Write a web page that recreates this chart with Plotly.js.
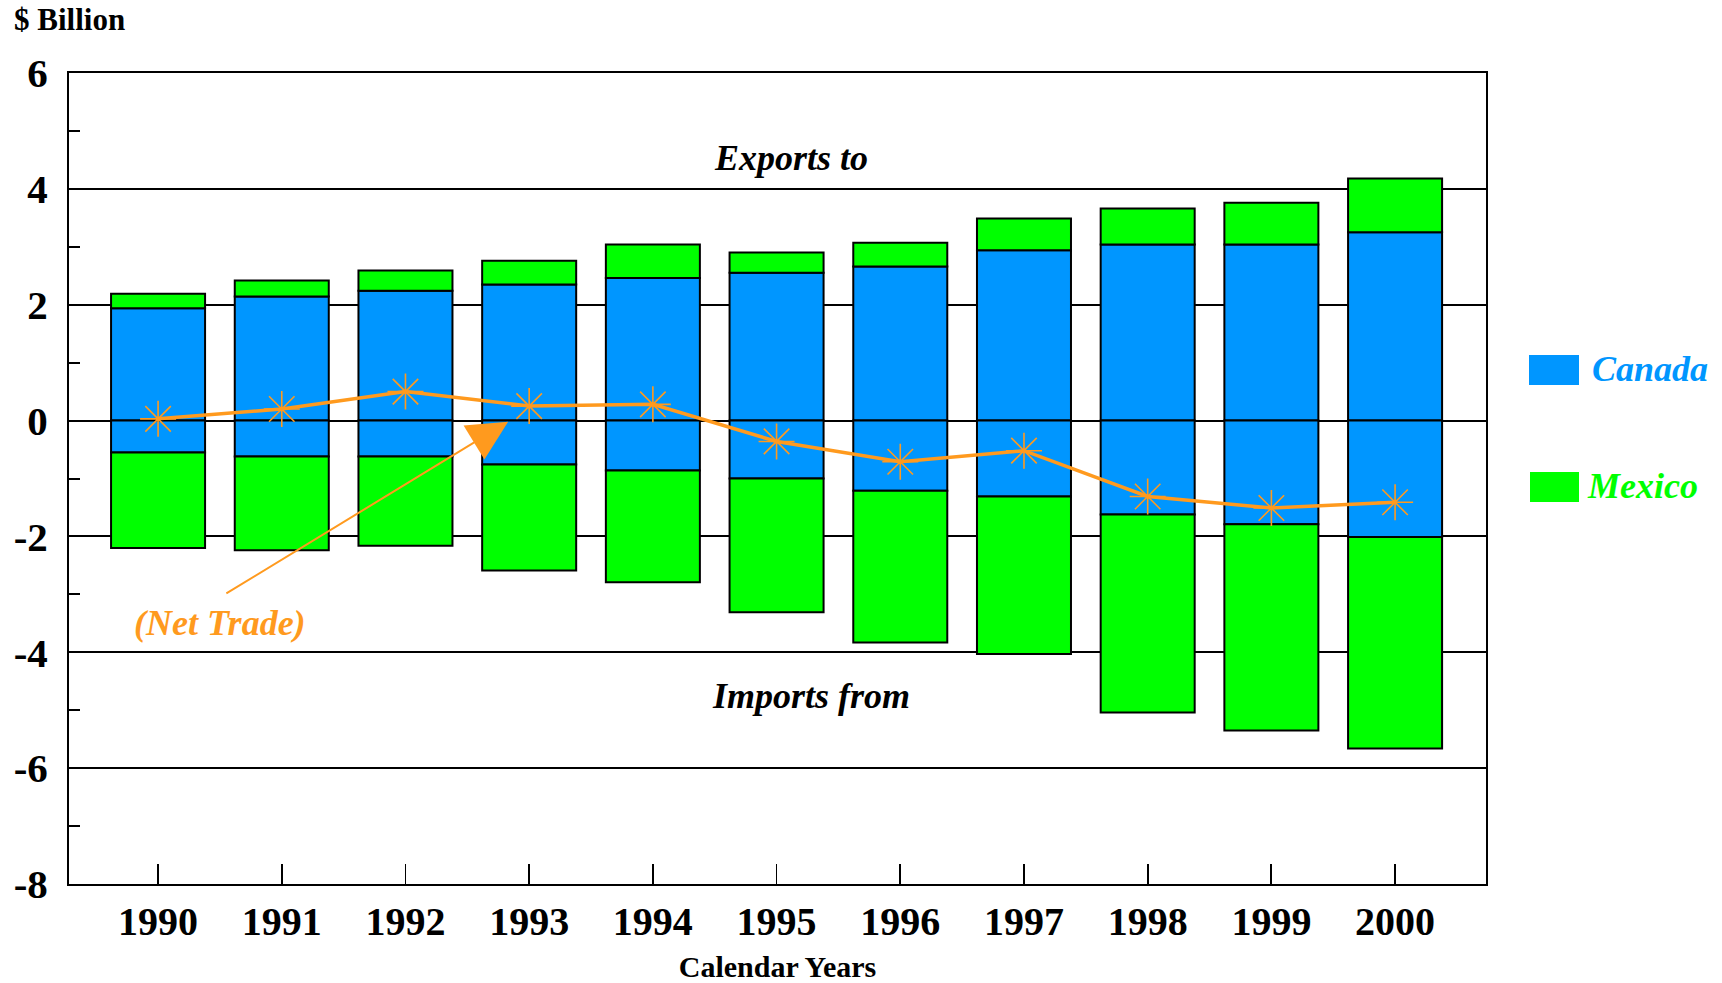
<!DOCTYPE html>
<html>
<head>
<meta charset="utf-8">
<script src="https://cdn.plot.ly/plotly-3.0.1.min.js"></script>
<style>
  html, body { margin: 0; padding: 0; background: #ffffff; }
  #chart { width: 1722px; height: 983px; }
</style>
</head>
<body>
<div id="chart"></div>
<script>
// ---- Data ($ Billion) ----
const years = [1990, 1991, 1992, 1993, 1994, 1995, 1996, 1997, 1998, 1999, 2000];
const canadaExports = [1.94, 2.14, 2.24, 2.35, 2.46, 2.55, 2.66, 2.94, 3.04, 3.04, 3.25];
const mexicoExports = [0.25, 0.28, 0.35, 0.41, 0.58, 0.35, 0.41, 0.55, 0.62, 0.72, 0.93];
const canadaImports = [-0.55, -0.62, -0.62, -0.76, -0.86, -1.00, -1.21, -1.31, -1.62, -1.79, -2.01];
const mexicoImports = [-1.65, -1.62, -1.54, -1.83, -1.93, -2.31, -2.62, -2.72, -3.42, -3.56, -3.65];
const netTrade = [0.03, 0.20, 0.50, 0.25, 0.28, -0.36, -0.71, -0.52, -1.31, -1.51, -1.41];
const yTickVals = [-8, -6, -4, -2, 0, 2, 4, 6];
const yTickText = ['-8', '-6', '-4', '-2', '0', '2', '4', '6'];

const CANADA = '#0096ff';
const MEXICO = '#00ff00';
const ORANGE = '#ff9a1e';
const FONT = 'Liberation Serif, Times New Roman, serif';

const barLine = { color: '#000000', width: 2 };
const barW = 0.76;

const traces = [
  { type: 'bar', x: years, y: canadaExports, name: 'Canada', width: barW,
    marker: { color: CANADA, line: barLine }, showlegend: false, hoverinfo: 'skip' },
  { type: 'bar', x: years, y: mexicoExports, name: 'Mexico', width: barW,
    marker: { color: MEXICO, line: barLine }, showlegend: false, hoverinfo: 'skip' },
  { type: 'bar', x: years, y: canadaImports, name: 'Canada', width: barW,
    marker: { color: CANADA, line: barLine }, showlegend: false, hoverinfo: 'skip' },
  { type: 'bar', x: years, y: mexicoImports, name: 'Mexico', width: barW,
    marker: { color: MEXICO, line: barLine }, showlegend: false, hoverinfo: 'skip' },
  { type: 'scatter', mode: 'lines+markers', x: years, y: netTrade, name: 'Net Trade',
    line: { color: ORANGE, width: 3.5 },
    marker: { symbol: 'asterisk-open', size: 30, color: ORANGE, line: { color: ORANGE, width: 1.6 } },
    showlegend: false, hoverinfo: 'skip' }
];

const px2paperX = p => (p - 69) / 1417;
const px2paperY = p => (884 - p) / 811;

const layout = {
  width: 1722, height: 983,
  margin: { l: 69, r: 236, t: 73, b: 99, pad: 0 },
  paper_bgcolor: '#ffffff', plot_bgcolor: '#ffffff',
  barmode: 'relative',
  showlegend: false,
  font: { family: FONT, color: '#000000' },
  xaxis: {
    range: [1989.28, 2000.735],
    tickmode: 'array', tickvals: years, ticktext: years.map(String),
    ticks: 'inside', ticklen: 20, tickwidth: 1.8, tickcolor: '#000000',
    showline: true, linewidth: 2, linecolor: '#000000', mirror: true,
    showgrid: false, zeroline: false,
    tickfont: { family: FONT, size: 40, color: '#000000', weight: 'bold' },
    ticklabelstandoff: 1,
    title: { text: '<b>Calendar Years</b>', font: { family: FONT, size: 30, color: '#000000' }, standoff: 14 },
    fixedrange: true
  },
  yaxis: {
    range: [-8, 6],
    tickmode: 'array', tickvals: yTickVals, ticktext: yTickText,
    ticks: 'inside', ticklen: 11, tickwidth: 2, tickcolor: '#000000',
    minor: { dtick: 1, tick0: 0, ticks: 'inside', ticklen: 11, tickwidth: 2, tickcolor: '#000000', showgrid: false },
    showline: true, linewidth: 2, linecolor: '#000000', mirror: true,
    showgrid: true, gridcolor: '#000000', gridwidth: 2,
    zeroline: true, zerolinecolor: '#000000', zerolinewidth: 2,
    tickfont: { family: FONT, size: 41, color: '#000000', weight: 'bold' },
    ticklabelstandoff: 11,
    fixedrange: true
  },
  shapes: [
    { type: 'rect', xref: 'paper', yref: 'paper',
      x0: px2paperX(1529), x1: px2paperX(1579), y0: px2paperY(385), y1: px2paperY(355),
      fillcolor: CANADA, line: { width: 0 } },
    { type: 'rect', xref: 'paper', yref: 'paper',
      x0: px2paperX(1530), x1: px2paperX(1579), y0: px2paperY(502), y1: px2paperY(472),
      fillcolor: MEXICO, line: { width: 0 } }
  ],
  annotations: [
    { xref: 'paper', yref: 'paper', x: px2paperX(12), y: px2paperY(20), xanchor: 'left', yanchor: 'middle',
      text: '<b>$ Billion</b>', showarrow: false, font: { family: FONT, size: 31, color: '#000000' } },
    { xref: 'x', yref: 'y', x: 1995.12, y: 4.54, xanchor: 'center', yanchor: 'middle',
      text: '<b><i>Exports to</i></b>', showarrow: false, font: { family: FONT, size: 36, color: '#000000' } },
    { xref: 'x', yref: 'y', x: 1995.28, y: -4.76, xanchor: 'center', yanchor: 'middle',
      text: '<b><i>Imports from</i></b>', showarrow: false, font: { family: FONT, size: 36, color: '#000000' } },
    { xref: 'x', yref: 'y', x: 1990.5, y: -3.49, xanchor: 'center', yanchor: 'middle',
      text: '<b><i>(Net Trade)</i></b>', showarrow: false, font: { family: FONT, size: 36, color: ORANGE } },
    { xref: 'x', yref: 'y', axref: 'x', ayref: 'y', x: 1992.83, y: -0.02, ax: 1990.54, ay: -3.0,
      text: '', showarrow: true, arrowhead: 2, arrowsize: 4, arrowwidth: 2, arrowcolor: ORANGE, standoff: 0 },
    { xref: 'paper', yref: 'paper', x: px2paperX(1590), y: px2paperY(369), xanchor: 'left', yanchor: 'middle',
      text: '<b><i>Canada</i></b>', showarrow: false, font: { family: FONT, size: 36, color: CANADA } },
    { xref: 'paper', yref: 'paper', x: px2paperX(1585), y: px2paperY(486), xanchor: 'left', yanchor: 'middle',
      text: '<b><i>Mexico</i></b>', showarrow: false, font: { family: FONT, size: 36, color: MEXICO } }
  ]
};

Plotly.newPlot('chart', traces, layout, { displayModeBar: false, staticPlot: true });
</script>
</body>
</html>
